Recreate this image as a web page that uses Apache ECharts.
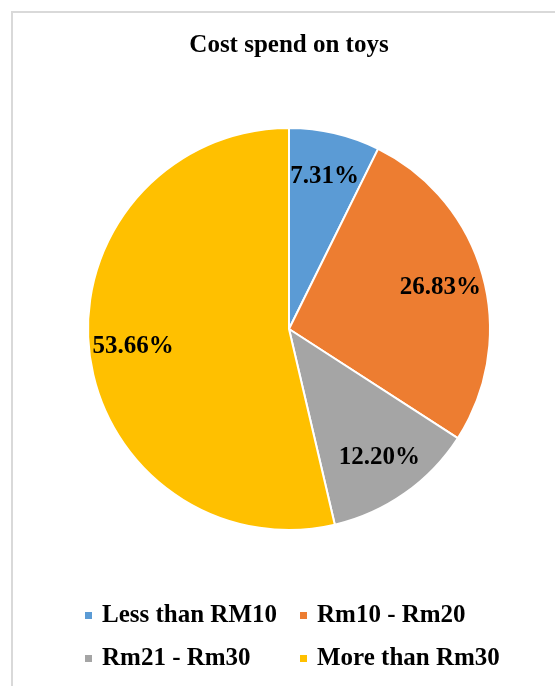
<!DOCTYPE html>
<html>
<head>
<meta charset="utf-8">
<script src="https://cdn.jsdelivr.net/npm/echarts@6/dist/echarts.min.js"></script>
<style>
  html, body { margin: 0; padding: 0; background: #fff; }
  #chart { width: 555px; height: 686px; }
</style>
</head>
<body>
<div id="chart"></div>
<script>
// Spending categories and their share of respondents (%)
var categories = ['Less than RM10', 'Rm10 - Rm20', 'Rm21 - Rm30', 'More than Rm30'];
var shares = [7.31, 26.83, 12.20, 53.66];
var colors = ['#5B9BD5', '#ED7D31', '#A5A5A5', '#FFC000'];

var serif = '"Liberation Serif", "Times New Roman", serif';
var titleText = 'Cost spend on toys';

var pieData = categories.map(function (name, i) {
  return { name: name, value: shares[i], itemStyle: { color: colors[i] } };
});

var chart = echarts.init(document.getElementById('chart'), null, { renderer: 'canvas' });

var CX = 289, CY = 329, R = 201;

var legendText = {
  fontFamily: serif, fontWeight: 'bold', fontSize: 25, color: '#000',
  lineHeight: 25, padding: [0, 0, 0, 4]
};

chart.setOption({
  animation: false,
  backgroundColor: '#ffffff',
  graphic: [{
    type: 'rect',
    shape: { x: 12, y: 12, width: 620, height: 720 },
    style: { fill: null, stroke: '#d9d9d9', lineWidth: 2 },
    silent: true
  }, {
    type: 'text',
    x: CX,
    y: 46,
    style: {
      text: titleText,
      align: 'center',
      verticalAlign: 'middle',
      font: 'bold 25px ' + serif,
      fill: '#000'
    },
    silent: true
  }],
  legend: [{
    orient: 'vertical',
    left: 83,
    top: 603,
    padding: 0,
    itemGap: 18,
    itemWidth: 9,
    itemHeight: 9,
    icon: 'rect',
    data: [categories[0], categories[2]],
    textStyle: legendText
  }, {
    orient: 'vertical',
    left: 298,
    top: 603,
    padding: 0,
    itemGap: 18,
    itemWidth: 9,
    itemHeight: 9,
    icon: 'rect',
    data: [categories[1], categories[3]],
    textStyle: legendText
  }],
  series: [{
    type: 'pie',
    center: [CX, CY],
    radius: [0, R],
    startAngle: 90,
    clockwise: true,
    data: pieData,
    label: { show: false },
    labelLine: { show: false },
    itemStyle: { borderColor: '#ffffff', borderWidth: 2 },
    emphasis: { disabled: true }
  }, {
    // transparent ring that carries the percentage labels further out on each slice
    type: 'pie',
    center: [CX, CY],
    radius: [Math.round(R * 0.53), R],
    startAngle: 90,
    clockwise: true,
    silent: true,
    legendHoverLink: false,
    data: categories.map(function (name, i) { return { name: name, value: shares[i] }; }),
    itemStyle: { color: 'rgba(0,0,0,0)', borderWidth: 0 },
    label: {
      show: true,
      position: 'inside',
      formatter: function (p) { return p.value.toFixed(2) + '%'; },
      fontFamily: serif,
      fontWeight: 'bold',
      fontSize: 25,
      color: '#000'
    },
    labelLine: { show: false },
    emphasis: { disabled: true }
  }]
});
</script>
</body>
</html>
